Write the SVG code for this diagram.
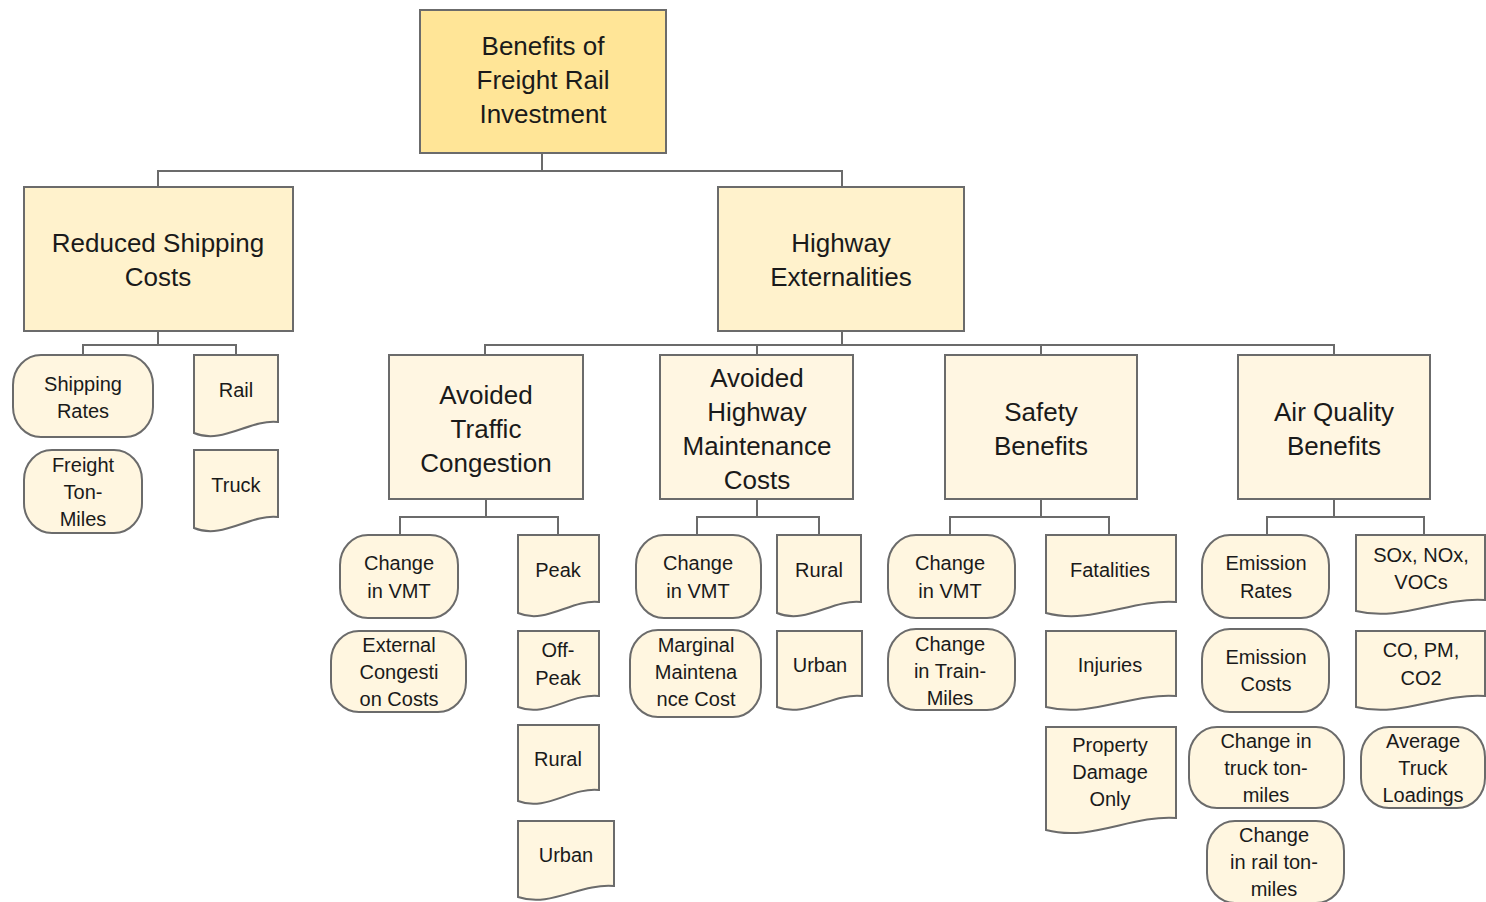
<svg xmlns="http://www.w3.org/2000/svg" width="1486" height="902" viewBox="0 0 1486 902">
  <style>
    .box { stroke: #6b6b6b; stroke-width: 2; }
    .root { fill: #ffe597; }
    .l2 { fill: #fff2cc; }
    .l3 { fill: #fff6e2; }
    .leaf { fill: #fff6e0; stroke: #6b6b6b; stroke-width: 2; }
    .t { font-family: "Liberation Sans", Arial, sans-serif; font-size: 26px; fill: #1a1a1a; text-anchor: middle; }
    .s { font-family: "Liberation Sans", Arial, sans-serif; font-size: 20px; fill: #1a1a1a; text-anchor: middle; }
    .conn { fill: none; stroke: #6b6b6b; stroke-width: 2; }
  </style>

  <rect width="1486" height="902" fill="#ffffff"/>

  <!-- tree connectors -->
  <g id="connectors" class="conn">
    <path d="M542,153 V171 M158,187 V171 H842 V187"/>
    <path d="M158,331 V345 M83,355 V345 H236 V355"/>
    <path d="M842,331 V345 M485,355 V345 H1334 V355 M757,345 V355 M1041,345 V355"/>
    <path d="M486,499 V517 M400,535 V517 H558 V535"/>
    <path d="M757,499 V517 M697,535 V517 H819 V535"/>
    <path d="M1041,499 V517 M950,535 V517 H1109 V535"/>
    <path d="M1334,499 V517 M1267,535 V517 H1424 V535"/>
  </g>

  <!-- top level -->
  <g id="root">
    <rect class="box root" x="420" y="10" width="246" height="143"/>
    <text class="t"><tspan x="543" y="55">Benefits of</tspan><tspan x="543" y="89">Freight Rail</tspan><tspan x="543" y="123">Investment</tspan></text>
  </g>

  <!-- second level -->
  <g id="reduced-shipping-costs">
    <rect class="box l2" x="24" y="187" width="269" height="144"/>
    <text class="t"><tspan x="158" y="252">Reduced Shipping</tspan><tspan x="158" y="286">Costs</tspan></text>
  </g>
  <g id="highway-externalities">
    <rect class="box l2" x="718" y="187" width="246" height="144"/>
    <text class="t"><tspan x="841" y="252">Highway</tspan><tspan x="841" y="286">Externalities</tspan></text>
  </g>

  <!-- third level -->
  <g id="avoided-traffic-congestion">
    <rect class="box l3" x="389" y="355" width="194" height="144"/>
    <text class="t"><tspan x="486" y="404">Avoided</tspan><tspan x="486" y="438">Traffic</tspan><tspan x="486" y="472">Congestion</tspan></text>
  </g>
  <g id="avoided-maintenance">
    <rect class="box l3" x="660" y="355" width="193" height="144"/>
    <text class="t"><tspan x="757" y="387">Avoided</tspan><tspan x="757" y="421">Highway</tspan><tspan x="757" y="455">Maintenance</tspan><tspan x="757" y="489">Costs</tspan></text>
  </g>
  <g id="safety-benefits">
    <rect class="box l3" x="945" y="355" width="192" height="144"/>
    <text class="t"><tspan x="1041" y="421">Safety</tspan><tspan x="1041" y="455">Benefits</tspan></text>
  </g>
  <g id="air-quality-benefits">
    <rect class="box l3" x="1238" y="355" width="192" height="144"/>
    <text class="t"><tspan x="1334" y="421">Air Quality</tspan><tspan x="1334" y="455">Benefits</tspan></text>
  </g>

  <!-- shipping cost measures -->
  <g id="shipping-rates">
    <rect class="leaf" x="13" y="355" width="140" height="82" rx="28" ry="30"/>
    <text class="s"><tspan x="83" y="391">Shipping</tspan><tspan x="83" y="418">Rates</tspan></text>
  </g>
  <g id="rail">
    <path class="leaf" d="M194,355 H278 V422 C249,419 223,445 194,433 Z"/>
    <text class="s"><tspan x="236" y="397">Rail</tspan></text>
  </g>
  <g id="freight-ton-miles">
    <rect class="leaf" x="24" y="450" width="118" height="83" rx="28" ry="30"/>
    <text class="s"><tspan x="83" y="472">Freight</tspan><tspan x="83" y="499">Ton-</tspan><tspan x="83" y="526">Miles</tspan></text>
  </g>
  <g id="truck">
    <path class="leaf" d="M194,450 H278 V517 C249,514 223,540 194,528 Z"/>
    <text class="s"><tspan x="236" y="492">Truck</tspan></text>
  </g>

  <!-- congestion measures -->
  <g id="atc-change-vmt">
    <rect class="leaf" x="340" y="535" width="118" height="83" rx="28" ry="30"/>
    <text class="s"><tspan x="399" y="570">Change</tspan><tspan x="399" y="598">in VMT</tspan></text>
  </g>
  <g id="peak">
    <path class="leaf" d="M518,535 H599 V602 C571,599 546,625 518,613 Z"/>
    <text class="s"><tspan x="558" y="577">Peak</tspan></text>
  </g>
  <g id="external-congestion-costs">
    <rect class="leaf" x="331" y="631" width="135" height="81" rx="28" ry="30"/>
    <text class="s"><tspan x="399" y="652">External</tspan><tspan x="399" y="679">Congesti</tspan><tspan x="399" y="706">on Costs</tspan></text>
  </g>
  <g id="off-peak">
    <path class="leaf" d="M518,631 H599 V696 C571,693 546,718 518,707 Z"/>
    <text class="s"><tspan x="558" y="657">Off-</tspan><tspan x="558" y="685">Peak</tspan></text>
  </g>
  <g id="atc-rural">
    <path class="leaf" d="M518,725 H599 V790 C571,787 546,812 518,801 Z"/>
    <text class="s"><tspan x="558" y="766">Rural</tspan></text>
  </g>
  <g id="atc-urban">
    <path class="leaf" d="M518,821 H614 V886 C580,883 551,908 518,897 Z"/>
    <text class="s"><tspan x="566" y="862">Urban</tspan></text>
  </g>

  <!-- maintenance measures -->
  <g id="ahm-change-vmt">
    <rect class="leaf" x="636" y="535" width="125" height="83" rx="28" ry="30"/>
    <text class="s"><tspan x="698" y="570">Change</tspan><tspan x="698" y="598">in VMT</tspan></text>
  </g>
  <g id="ahm-rural">
    <path class="leaf" d="M777,535 H861 V602 C832,599 806,625 777,613 Z"/>
    <text class="s"><tspan x="819" y="577">Rural</tspan></text>
  </g>
  <g id="marginal-maintenance-cost">
    <rect class="leaf" x="630" y="630" width="131" height="87" rx="28" ry="30"/>
    <text class="s"><tspan x="696" y="652">Marginal</tspan><tspan x="696" y="679">Maintena</tspan><tspan x="696" y="706">nce Cost</tspan></text>
  </g>
  <g id="ahm-urban">
    <path class="leaf" d="M777,631 H862 V696 C832,693 806,718 777,707 Z"/>
    <text class="s"><tspan x="820" y="672">Urban</tspan></text>
  </g>

  <!-- safety measures -->
  <g id="sb-change-vmt">
    <rect class="leaf" x="888" y="535" width="127" height="83" rx="28" ry="30"/>
    <text class="s"><tspan x="950" y="570">Change</tspan><tspan x="950" y="598">in VMT</tspan></text>
  </g>
  <g id="fatalities">
    <path class="leaf" d="M1046,535 H1176 V602 C1131,599 1091,625 1046,613 Z"/>
    <text class="s"><tspan x="1110" y="577">Fatalities</tspan></text>
  </g>
  <g id="change-train-miles">
    <rect class="leaf" x="888" y="629" width="127" height="81" rx="28" ry="30"/>
    <text class="s"><tspan x="950" y="651">Change</tspan><tspan x="950" y="678">in Train-</tspan><tspan x="950" y="705">Miles</tspan></text>
  </g>
  <g id="injuries">
    <path class="leaf" d="M1046,631 H1176 V696 C1131,693 1091,718 1046,707 Z"/>
    <text class="s"><tspan x="1110" y="672">Injuries</tspan></text>
  </g>
  <g id="property-damage-only">
    <path class="leaf" d="M1046,727 H1176 V818 C1131,815 1091,842 1046,830 Z"/>
    <text class="s"><tspan x="1110" y="752">Property</tspan><tspan x="1110" y="779">Damage</tspan><tspan x="1110" y="806">Only</tspan></text>
  </g>

  <!-- air quality measures -->
  <g id="emission-rates">
    <rect class="leaf" x="1202" y="535" width="127" height="83" rx="28" ry="30"/>
    <text class="s"><tspan x="1266" y="570">Emission</tspan><tspan x="1266" y="598">Rates</tspan></text>
  </g>
  <g id="sox-nox-vocs">
    <path class="leaf" d="M1356,535 H1485 V600 C1440,597 1401,622 1356,611 Z"/>
    <text class="s"><tspan x="1421" y="562">SOx, NOx,</tspan><tspan x="1421" y="589">VOCs</tspan></text>
  </g>
  <g id="emission-costs">
    <rect class="leaf" x="1202" y="629" width="127" height="83" rx="28" ry="30"/>
    <text class="s"><tspan x="1266" y="664">Emission</tspan><tspan x="1266" y="691">Costs</tspan></text>
  </g>
  <g id="co-pm-co2">
    <path class="leaf" d="M1356,631 H1485 V696 C1440,693 1401,718 1356,707 Z"/>
    <text class="s"><tspan x="1421" y="657">CO, PM,</tspan><tspan x="1421" y="685">CO2</tspan></text>
  </g>
  <g id="change-truck-ton-miles">
    <rect class="leaf" x="1189" y="727" width="155" height="81" rx="28" ry="30"/>
    <text class="s"><tspan x="1266" y="748">Change  in</tspan><tspan x="1266" y="775">truck ton-</tspan><tspan x="1266" y="802">miles</tspan></text>
  </g>
  <g id="average-truck-loadings">
    <rect class="leaf" x="1361" y="727" width="124" height="81" rx="28" ry="30"/>
    <text class="s"><tspan x="1423" y="748">Average</tspan><tspan x="1423" y="775">Truck</tspan><tspan x="1423" y="802">Loadings</tspan></text>
  </g>
  <g id="change-rail-ton-miles">
    <rect class="leaf" x="1207" y="821" width="137" height="82" rx="28" ry="30"/>
    <text class="s"><tspan x="1274" y="842">Change</tspan><tspan x="1274" y="869">in rail ton-</tspan><tspan x="1274" y="896">miles</tspan></text>
  </g>
</svg>
